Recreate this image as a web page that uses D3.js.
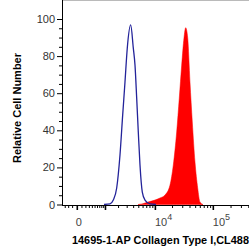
<!DOCTYPE html>
<meta charset="utf-8">
<style>
  body { margin: 0; background: #fff; }
  svg { display: block; font-family: "Liberation Sans", Arial, sans-serif; }
</style>
<svg width="249" height="248"></svg>
<script src="https://cdn.jsdelivr.net/npm/d3@7"></script>
<script>

// histogram of the control (blue outline), x in fluorescence units, y in % of max
var controlX = [943, 1325, 1575, 1869, 2194, 2492, 2774, 3081, 3588, 4025, 4335, 4665, 5000, 5376, 5929, 6640, 8180, 10460];
var controlY = [0, 0.3, 2.4, 8.9, 26.7, 48.2, 66, 84.4, 96.8, 84.4, 75.2, 57.4, 39.1, 21.3, 6.7, 2.4, 0.3, 0];

// histogram of the stained sample (red fill)
var stainX = [4935, 5850, 7526, 10045, 12320, 15075, 18435, 21030, 24065, 26685, 29370, 32165, 34400, 37250, 40750, 44650, 49650, 55200, 60450, 68000];
var stainY = [0, 0.3, 1.3, 2.4, 3.5, 5.1, 10.5, 21.3, 39.1, 57.4, 75.2, 89.8, 95.3, 89.8, 66, 44.5, 22.9, 8.9, 1.3, 0];

var yTicks = [0, 20, 40, 60, 80, 100];
var xMajor = [0, 1e3, 1e4, 1e5];
var xLabels = [[0, "0"], [1e4, "10", "4"], [1e5, "10", "5"]];

var svg = d3.select("svg"),
    left = 62, top = 10, bottom = 205, right = 254;

var x = d3.scaleSymlog().constant(500)
    .domain([-390, 500000])
    .range([left, right]);

var y = d3.scaleLinear()
    .domain([0, 100])
    .range([204.5, 19]);

// minor ticks on the bi-exponential axis
var xMinor = [-300, -200, -100];
[100, 1000, 10000, 100000].forEach(function(d) {
  for (var i = 1; i < 10; i++) if (d * i <= 400000) xMinor.push(d * i);
});
xMinor = xMinor.filter(function(v) { return xMajor.indexOf(v) < 0; });

var area = d3.area()
    .x(function(d) { return x(d[0]); })
    .y0(y(0))
    .y1(function(d) { return y(d[1]); })
    .curve(d3.curveMonotoneX);

var line = d3.line()
    .x(function(d) { return x(d[0]); })
    .y(function(d) { return y(d[1]); })
    .curve(d3.curveMonotoneX);

svg.append("path")
    .datum(d3.zip(stainX, stainY))
    .attr("fill", "#ff0000")
    .attr("stroke", "#ff0000")
    .attr("stroke-width", 0.5)
    .attr("d", area);

svg.append("path")
    .datum(d3.zip(controlX, controlY))
    .attr("fill", "none")
    .attr("stroke", "#23239a")
    .attr("stroke-width", 1.3)
    .attr("d", line);

// frame
svg.append("line")
    .attr("x1", left).attr("x2", 249)
    .attr("y1", top + 0.5).attr("y2", top + 0.5)
    .attr("stroke", "#777");

// y axis
var yAxis = svg.append("g")
    .attr("transform", "translate(" + left + ",0)")
    .call(d3.axisLeft(y).tickValues(yTicks).tickSize(5).tickPadding(2));
yAxis.select(".domain").remove();
yAxis.selectAll("text").attr("font-size", 11).attr("fill", "#333").attr("font-family", null);
svg.append("g")
    .attr("transform", "translate(" + left + ",0)")
    .call(d3.axisLeft(y).tickValues(d3.range(5, 100, 5).filter(function(v) { return v % 20; })).tickSize(3).tickFormat(""))
    .select(".domain").remove();
svg.append("line")
    .attr("x1", left + 0.5).attr("x2", left + 0.5)
    .attr("y1", top).attr("y2", bottom + 0.5)
    .attr("stroke", "#000");

// x axis
var xAxisMinor = svg.append("g")
    .attr("transform", "translate(0," + bottom + ")")
    .call(d3.axisBottom(x).tickValues(xMinor).tickSize(3).tickFormat(""));
xAxisMinor.select(".domain").remove();
var xAxisMajor = svg.append("g")
    .attr("transform", "translate(0," + bottom + ")")
    .call(d3.axisBottom(x).tickValues(xMajor).tickSize(5).tickFormat(""));
xAxisMajor.select(".domain").remove();
xAxisMajor.selectAll("line").attr("stroke-width", 1.6);
svg.append("line")
    .attr("x1", left).attr("x2", 249)
    .attr("y1", bottom + 0.5).attr("y2", bottom + 0.5)
    .attr("stroke", "#000");

var lab = svg.append("g")
    .attr("font-size", 11)
    .attr("fill", "#444");
xLabels.forEach(function(d) {
  var t = lab.append("text")
      .attr("y", 226);
  if (d.length == 2) {
    t.attr("x", x(d[0]) + 2).attr("text-anchor", "middle").text(d[1]);
  } else {
    t.attr("x", x(d[0])).append("tspan").text(d[1]);
    t.append("tspan").attr("dy", -6).attr("font-size", 9).text(d[2]);
  }
});

// axis titles
svg.append("text")
    .attr("transform", "translate(21,108) rotate(-90)")
    .attr("text-anchor", "middle")
    .attr("font-size", 11)
    .attr("font-weight", "bold")
    .text("Relative Cell Number");

svg.append("text")
    .attr("x", 72)
    .attr("y", 244)
    .attr("font-size", 10.9)
    .attr("font-weight", "bold")
    .text("14695-1-AP Collagen Type I,CL488");

</script>
